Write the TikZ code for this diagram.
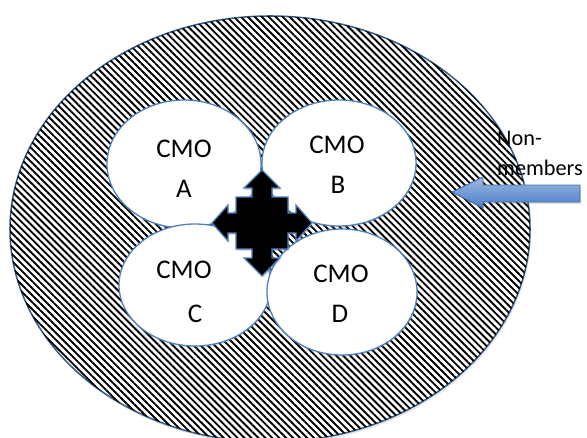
\documentclass[tikz,border=0pt]{standalone}
\usepackage{fontspec}
\setmainfont{Carlito}
\usetikzlibrary{shapes.geometric,patterns.meta,shadows}
\definecolor{rimblue}{HTML}{385D8A}
\definecolor{cmoblue}{HTML}{4F81BD}
\definecolor{arrowblue}{HTML}{4A7EC9}

\begin{document}
\begin{tikzpicture}[x=0.03cm,y=-0.03cm,
		ring/.style={ellipse,draw=rimblue,line width=1.3pt,fill=white,inner sep=0pt,
			drop shadow={opacity=0.2,shadow xshift=1pt,shadow yshift=-2pt},
			postaction={pattern={Lines[angle=-45,distance=4.2pt,line width=1.6pt]},pattern color=black}},
		cmo/.style={ellipse,draw=cmoblue,line width=1.1pt,fill=white,inner sep=0pt,
			drop shadow={opacity=0.18,shadow xshift=1pt,shadow yshift=-1.5pt}},
		tag/.style={anchor=base,inner sep=0pt,font=\fontsize{23}{28}\selectfont},
		hubarrow/.style={fill=black,draw=cmoblue,line width=1.1pt,line join=miter,
			drop shadow={opacity=0.25,shadow xshift=1pt,shadow yshift=-1.5pt}},
		]
		\useasboundingbox (0,0) rectangle (587,437);
		\clip (0,0) rectangle (587,437);
		% outer ring of non-members
		\node[ring,minimum width=15.6cm,minimum height=12.78cm] (nonmem) at (270,229) {};
		% the four CMOs
		\node[cmo,minimum width=4.62cm,minimum height=3.84cm] (A) at (184,164) {};
		\node[cmo,minimum width=4.62cm,minimum height=3.78cm] (B) at (339,163) {};
		\node[cmo,minimum width=4.56cm,minimum height=3.66cm] (C) at (195,285) {};
		\node[cmo,minimum width=4.50cm,minimum height=3.78cm] (D) at (342,292) {};
		\node[tag] (A1) at (184,157) {CMO};
		\node[tag] (A2) at (184,197) {A};
		\node[tag] (B1) at (337,153) {CMO};
		\node[tag] (B2) at (338,193) {B};
		\node[tag] (C1) at (184,278) {CMO};
		\node[tag] (C2) at (195,322) {C};
		\node[tag] (D1) at (341,282) {CMO};
		\node[tag] (D2) at (340,322) {D};
		% arrow in the middle
		\coordinate (hub) at (262,223);
		\draw[hubarrow,shift={(hub)}] (0,-53) -- (18,-35) -- (10,-35) -- (10,-26) -- (26,-26)
			-- (26,-10) -- (34,-10) -- (34,-18) -- (50,0) -- (34,18) -- (34,10) -- (26,10)
			-- (26,26) -- (10,26) -- (10,35) -- (18,35) -- (0,53) -- (-18,35) -- (-10,35)
			-- (-10,26) -- (-26,26) -- (-26,10) -- (-34,10) -- (-34,18) -- (-50,0)
			-- (-34,-18) -- (-34,-10) -- (-26,-10) -- (-26,-26) -- (-10,-26) -- (-10,-35)
			-- (-18,-35) -- cycle;
		% non-members pushing in
		\node[anchor=north west,inner sep=0pt,align=left,font=\fontsize{19}{26}\selectfont] (nm) at (497,131) {Non-\\members};
		\draw[top color=arrowblue!55!white,bottom color=arrowblue,draw=cmoblue!85!black,line width=0.8pt,
			drop shadow={opacity=0.25,shadow xshift=1pt,shadow yshift=-1.5pt}]
			(452,192) -- (483,177) -- (483,185) -- (580,185) -- (580,202) -- (483,202) -- (483,208) -- cycle;
	\end{tikzpicture}
\end{document}
